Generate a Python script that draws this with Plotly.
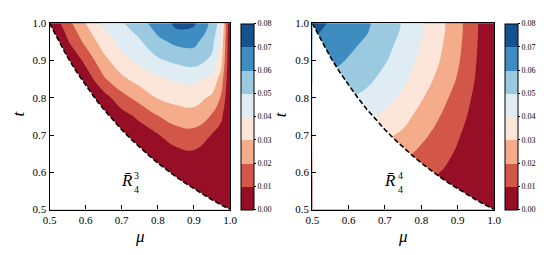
import plotly.graph_objects as go

# ---------------- data ----------------
mu = [0.5, 0.55, 0.6, 0.65, 0.7, 0.75, 0.8, 0.85, 0.9, 0.95, 0.975, 1.0]
t = [0.5, 0.55, 0.6, 0.65, 0.7, 0.75, 0.8, 0.85, 0.9, 0.95, 0.975, 1.0]

# R_4^3 (rows: t, columns: mu)
r43 = [
    [-0.10, -0.089, -0.065, -0.048, -0.035, -0.023, -0.0156, -0.0101, -0.005, -0.0015, -0.001, 0],
    [-0.09, -0.078, -0.055, -0.039, -0.027, -0.016, -0.0094, -0.0044, -0.0005, 0.0005, 0.0, 0],
    [-0.08, -0.067, -0.046, -0.030, -0.0187, -0.0092, -0.0031, 0.0014, 0.0039, 0.0022, 0.001, 0],
    [-0.07, -0.056, -0.036, -0.0214, -0.0105, -0.0023, 0.0031, 0.0071, 0.0084, 0.005, 0.0025, 0],
    [-0.06, -0.045, -0.026, -0.0124, -0.0023, 0.0045, 0.0094, 0.015, 0.0164, 0.0095, 0.006, 0],
    [-0.05, -0.035, -0.0163, -0.0034, 0.0059, 0.0122, 0.0196, 0.0247, 0.0259, 0.019, 0.012, 0],
    [-0.04, -0.024, -0.0065, 0.0056, 0.0163, 0.0238, 0.0307, 0.0333, 0.0341, 0.028, 0.019, 0],
    [-0.03, -0.013, 0.0033, 0.0184, 0.0278, 0.0338, 0.0379, 0.0411, 0.0422, 0.037, 0.026, 0],
    [-0.02, -0.002, 0.013, 0.0269, 0.0367, 0.0422, 0.0485, 0.052, 0.054, 0.048, 0.034, 0],
    [-0.01, 0.0089, 0.0225, 0.0345, 0.043, 0.0488, 0.0573, 0.062, 0.0625, 0.053, 0.039, 0],
    [-0.005, 0.0125, 0.0264, 0.0383, 0.0455, 0.0524, 0.0613, 0.0685, 0.068, 0.0555, 0.042, 0],
    [0.0, 0.0165, 0.030, 0.042, 0.049, 0.0563, 0.0645, 0.0718, 0.0712, 0.0576, 0.045, 0],
]

# R_4^4 (rows: t, columns: mu)
r44 = [
    [0.0058, 0.0055, 0.0052, 0.0049, 0.0045, 0.0039, 0.0041, 0.0039, 0.0032, 0.0016, 0.0008, 0],
    [0.0144, 0.0138, 0.0130, 0.0123, 0.0111, 0.0098, 0.0085, 0.0070, 0.0051, 0.0025, 0.0012, 0],
    [0.0230, 0.0220, 0.0208, 0.0196, 0.0178, 0.0157, 0.0129, 0.0101, 0.0069, 0.0034, 0.0017, 0],
    [0.0328, 0.0313, 0.0296, 0.0279, 0.0253, 0.0224, 0.0177, 0.0133, 0.0088, 0.0043, 0.0021, 0],
    [0.0414, 0.0396, 0.0374, 0.0352, 0.0320, 0.0283, 0.0223, 0.0167, 0.0109, 0.0053, 0.0027, 0],
    [0.0486, 0.0464, 0.0439, 0.0414, 0.0376, 0.0332, 0.0266, 0.0202, 0.0135, 0.0066, 0.0033, 0],
    [0.0558, 0.0533, 0.0504, 0.0475, 0.0432, 0.0381, 0.0309, 0.0238, 0.0162, 0.0079, 0.0039, 0],
    [0.0612, 0.0585, 0.0553, 0.0521, 0.0473, 0.0418, 0.0347, 0.0275, 0.0192, 0.0094, 0.0046, 0],
    [0.0657, 0.0627, 0.0593, 0.0559, 0.0508, 0.0449, 0.0377, 0.0301, 0.0213, 0.0104, 0.0052, 0],
    [0.0695, 0.0660, 0.0624, 0.0588, 0.0535, 0.0472, 0.0398, 0.0320, 0.0227, 0.0111, 0.0055, 0],
    [0.0715, 0.0678, 0.0640, 0.0604, 0.0549, 0.0485, 0.0409, 0.0328, 0.0233, 0.0114, 0.0056, 0],
    [0.0740, 0.0690, 0.0650, 0.0613, 0.0557, 0.0492, 0.0414, 0.0332, 0.0235, 0.0115, 0.0057, 0],
]

# boundary curve (dashed), below which the region is blank
mu_b = [0.5, 0.525, 0.55, 0.575, 0.6, 0.625, 0.65, 0.675, 0.7, 0.725, 0.75,
        0.775, 0.8, 0.825, 0.85, 0.875, 0.9, 0.925, 0.95, 0.975, 1.0]
t_b = [1.0, 0.9524, 0.9091, 0.8696, 0.8333, 0.8, 0.7692, 0.7407, 0.7143, 0.6897, 0.6667,
       0.6452, 0.625, 0.6061, 0.5882, 0.5714, 0.5556, 0.5405, 0.5263, 0.5128, 0.5]

levels = [0.0, 0.01, 0.02, 0.03, 0.04, 0.05, 0.06, 0.07, 0.08]
level_labels = ["0.00", "0.01", "0.02", "0.03", "0.04", "0.05", "0.06", "0.07", "0.08"]
axis_ticks = [0.5, 0.6, 0.7, 0.8, 0.9, 1.0]
axis_ticklabels = ["0.5", "0.6", "0.7", "0.8", "0.9", "1.0"]

# ---------------- style ----------------
W, H = 548, 255
FONT = "Liberation Serif"
band_colors = ['rgb(150,15,38)', 'rgb(210,87,73)', 'rgb(245,172,139)', 'rgb(251,230,217)',
               'rgb(223,236,243)', 'rgb(154,201,224)', 'rgb(63,141,192)', 'rgb(22,82,144)']
nb = len(band_colors)
colorscale = []
for k, c in enumerate(band_colors):
    colorscale += [[k / nb, c], [(k + 1) / nb, c]]

# pixel layout
top_px, bot_px = 23.3, 209.5
panels = [
    dict(z=r43, x0=49.5, x1=230.0, cb=241.0, lab="3", xa="x", ya="y"),
    dict(z=r44, x0=312.3, x1=494.0, cb=504.7, lab="4", xa="x2", ya="y2"),
]

fig = go.Figure()
ydom = [1 - bot_px / H, 1 - top_px / H]
annotations = []
for i, p in enumerate(panels):
    fig.add_trace(go.Contour(
        x=mu, y=t, z=p["z"], xaxis=p["xa"], yaxis=p["ya"],
        zmin=levels[0], zmax=levels[-1], autocontour=False,
        contours=dict(start=levels[0], end=levels[-1], size=0.01, coloring="fill", showlines=False),
        line=dict(width=0, smoothing=1.3),
        colorscale=colorscale, hoverinfo="skip",
        colorbar=dict(
            x=p["cb"] / W, xanchor="left", y=ydom[0], yanchor="bottom",
            len=ydom[1] - ydom[0], lenmode="fraction",
            thickness=12.5, thicknessmode="pixels", xpad=0, ypad=0,
            outlinewidth=1, outlinecolor="black",
            tickvals=levels, ticktext=level_labels, ticks="outside", ticklen=2,
            tickcolor="black", tickfont=dict(size=8, family=FONT, color="black"),
        ),
    ))
    fig.add_trace(go.Scatter(
        x=mu_b + [0.5], y=t_b + [0.5], xaxis=p["xa"], yaxis=p["ya"],
        mode="lines", fill="toself", fillcolor="white", line=dict(width=0, color="white"),
        hoverinfo="skip", showlegend=False,
    ))
    fig.add_trace(go.Scatter(
        x=mu_b, y=t_b, xaxis=p["xa"], yaxis=p["ya"], mode="lines",
        line=dict(color="black", width=1.6, dash="5px,2.5px"),
        hoverinfo="skip", showlegend=False,
    ))
    suffix = "" if i == 0 else "2"
    ax = dict(range=[0.5, 1.0], showgrid=False, zeroline=False, showline=True, mirror=True,
              linecolor="black", linewidth=1.3, ticks="inside", ticklen=4, tickwidth=1,
              tickcolor="black", tickvals=axis_ticks, ticktext=axis_ticklabels,
              tickfont=dict(size=11, family=FONT, color="black"))
    fig.update_layout(**{
        "xaxis" + suffix: dict(ax, domain=[p["x0"] / W, p["x1"] / W], anchor="y" + suffix),
        "yaxis" + suffix: dict(ax, domain=ydom, anchor="x" + suffix),
    })
    xr = "x" + suffix
    yr = "y" + suffix
    annotations += [
        dict(x=0.714, y=0.577, xref=xr, yref=yr, text="<i>R\u0304</i>", showarrow=False,
             font=dict(size=17, family=FONT, color="black"), xanchor="center", yanchor="middle"),
        dict(x=0.742, y=0.592, xref=xr, yref=yr, text=p["lab"], showarrow=False,
             font=dict(size=10, family=FONT, color="black"), xanchor="center", yanchor="middle"),
        dict(x=0.742, y=0.553, xref=xr, yref=yr, text="4", showarrow=False,
             font=dict(size=10, family=FONT, color="black"), xanchor="center", yanchor="middle"),
        dict(x=(p["x0"] + p["x1"]) / 2 / W, y=1 - 236 / H, xref="paper", yref="paper",
             text="<i>\u03bc</i>", showarrow=False, font=dict(size=17, family=FONT, color="black"),
             xanchor="center", yanchor="middle"),
        dict(x=(p["x0"] - 31) / W, y=1 - 114 / H, xref="paper", yref="paper",
             text="<i>t</i>", textangle=-90, showarrow=False,
             font=dict(size=17, family=FONT, color="black"), xanchor="center", yanchor="middle"),
    ]

fig.update_layout(
    width=W, height=H, margin=dict(l=0, r=0, t=0, b=0, autoexpand=False),
    paper_bgcolor="white", plot_bgcolor="white", showlegend=False,
    annotations=annotations, font=dict(family=FONT, color="black"),
)
fig.write_html("out.html", config={"displayModeBar": False},
               post_script="document.body.style.margin='0';")
